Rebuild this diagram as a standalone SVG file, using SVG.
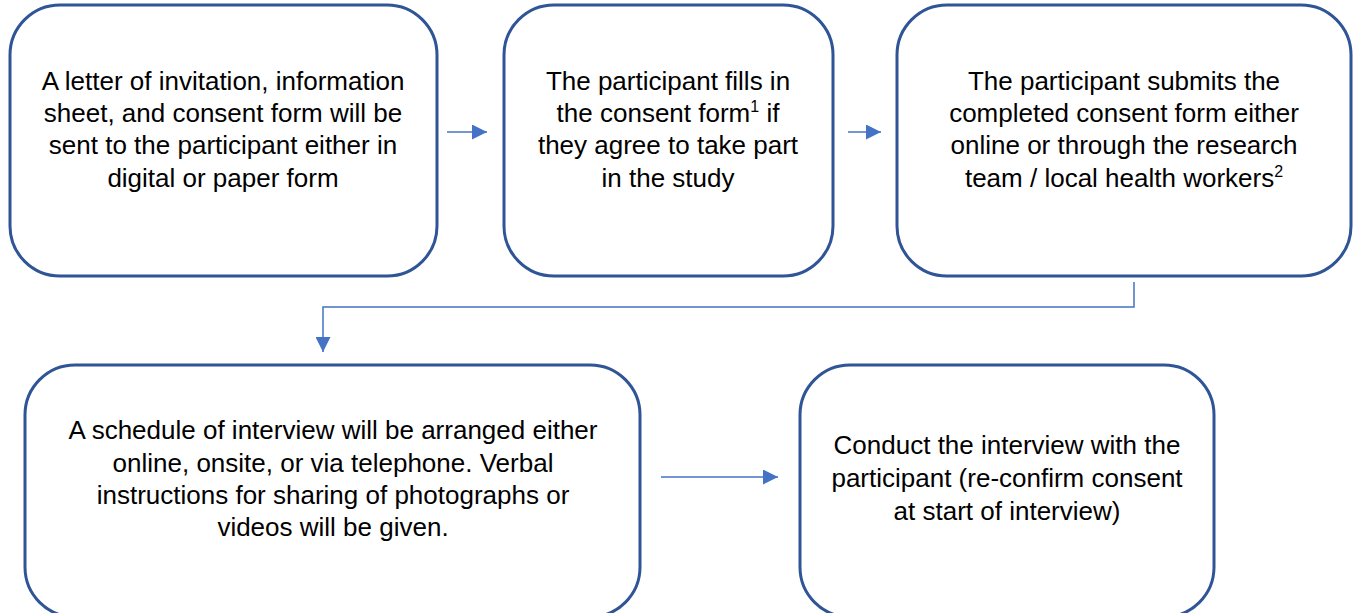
<svg xmlns="http://www.w3.org/2000/svg" width="1354" height="613" viewBox="0 0 1354 613">
<defs>
<style>
.box{fill:#fff;stroke:#2F5597;stroke-width:3}
.t{font-family:"Liberation Sans",Arial,sans-serif;font-size:26px;fill:#000;text-anchor:middle}
.c{fill:none;stroke:#4472C4;stroke-width:1.5}
.sup{font-size:16px}
</style>
<marker id="ahb" viewBox="0 0 10 10" refX="10" refY="5" markerWidth="15" markerHeight="15" markerUnits="userSpaceOnUse" orient="auto">
<path d="M0,0 L10,5 L0,10 z" fill="#4472C4"/>
</marker>
</defs>
<rect width="1354" height="613" fill="#fff"/>
<g id="n1">
<rect class="box" x="10" y="5" width="427" height="271" rx="50"/>
<text class="t" x="223"><tspan x="223" y="90">A letter of invitation, information</tspan><tspan x="223" y="122">sheet, and consent form will be</tspan><tspan x="223" y="154">sent to the participant either in</tspan><tspan x="223" y="187">digital or paper form</tspan></text>
</g>
<g id="n2">
<rect class="box" x="504" y="5" width="329" height="271" rx="50"/>
<text class="t" x="668"><tspan x="668" y="90">The participant fills in</tspan><tspan x="668" y="122">the consent form<tspan class="sup" dy="-10">1</tspan><tspan dy="10"> if</tspan></tspan><tspan x="668" y="154">they agree to take part</tspan><tspan x="668" y="187">in the study</tspan></text>
</g>
<g id="n3">
<rect class="box" x="897" y="5" width="454" height="271" rx="50"/>
<text class="t" x="1124"><tspan x="1124" y="90">The participant submits the</tspan><tspan x="1124" y="122">completed consent form either</tspan><tspan x="1124" y="154">online or through the research</tspan><tspan x="1124" y="187">team / local health workers<tspan class="sup" dy="-10">2</tspan></tspan></text>
</g>
<g id="n4">
<rect class="box" x="25" y="365" width="615" height="252" rx="50"/>
<text class="t" x="333"><tspan x="333" y="439">A schedule of interview will be arranged either</tspan><tspan x="333" y="472">online, onsite, or via telephone. Verbal</tspan><tspan x="333" y="504">instructions for sharing of photographs or</tspan><tspan x="333" y="536">videos will be given.</tspan></text>
</g>
<g id="n5">
<rect class="box" x="800" y="365" width="414" height="252" rx="50"/>
<text class="t" x="1007"><tspan x="1007" y="454">Conduct the interview with the</tspan><tspan x="1007" y="487">participant (re-confirm consent</tspan><tspan x="1007" y="520">at start of interview)</tspan></text>
</g>
<g id="connectors">
<line class="c" x1="447" y1="132" x2="487" y2="132" marker-end="url(#ahb)"/>
<line class="c" x1="848" y1="132" x2="881" y2="132" marker-end="url(#ahb)"/>
<polyline class="c" points="1134,282 1134,307 323,307 323,352" marker-end="url(#ahb)"/>
<line class="c" x1="661" y1="477" x2="778" y2="477" marker-end="url(#ahb)"/>
</g>
</svg>
